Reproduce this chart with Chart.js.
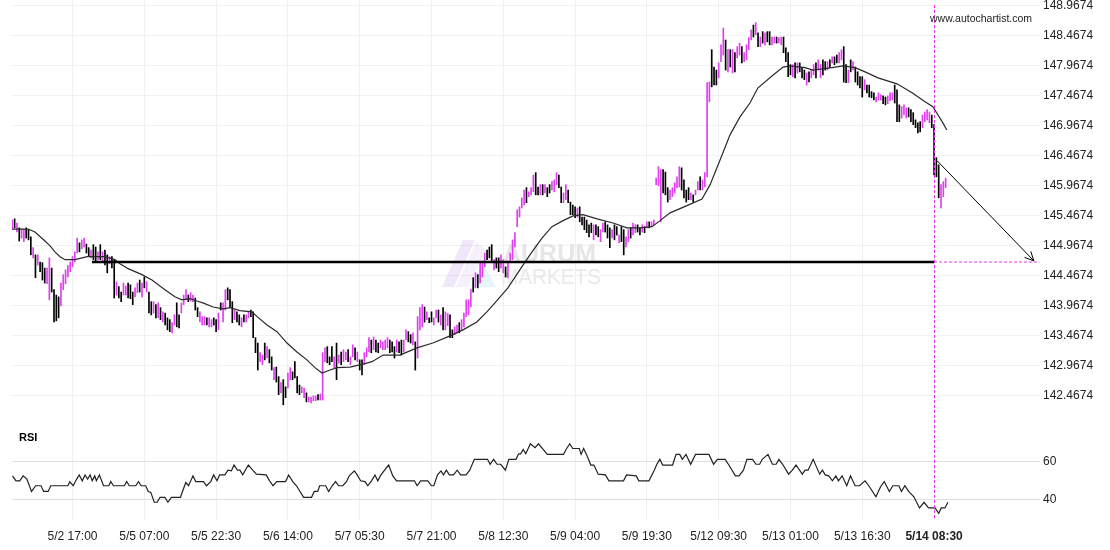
<!DOCTYPE html>
<html><head><meta charset="utf-8">
<script src="https://cdn.jsdelivr.net/npm/chart.js@4.4.1/dist/chart.umd.min.js"></script>
<style>html,body{margin:0;padding:0;background:#fff;}canvas{display:block;}</style>
</head><body>
<canvas id="c" width="1110" height="550"></canvas>
<script>
// ---- data (30-minute bars) ----
const xTickIdx = [26,57,88,119,150,181,212,243,274,305,336,367,398];
const xTickLabels = ['5/2 17:00','5/5 07:00','5/5 22:30','5/6 14:00','5/7 05:30','5/7 21:00','5/8 12:30','5/9 04:00','5/9 19:30','5/12 09:30','5/13 01:00','5/13 16:30','5/14 08:30'];
const priceTicks = [148.9674,148.4674,147.9674,147.4674,146.9674,146.4674,145.9674,145.4674,144.9674,144.4674,143.9674,143.4674,142.9674,142.4674];
const rsiTicks = [40,60];

const highs = [
145.40,145.42,145.35,145.27,145.25,145.24,145.27,145.24,145.12,144.94,
144.82,144.82,144.70,144.69,144.60,144.60,144.77,144.60,144.24,144.15,
144.12,144.35,144.49,144.57,144.64,144.70,144.79,144.87,145.10,145.02,
145.07,145.10,145.00,144.94,144.90,144.99,144.95,144.87,144.99,144.87,
144.90,144.82,144.79,144.79,144.74,144.37,144.29,144.20,144.35,144.30,
144.35,144.32,144.20,144.27,144.35,144.40,144.35,144.45,144.37,144.20,
144.04,144.04,143.99,144.02,143.94,143.87,143.85,143.77,143.74,143.69,
143.82,144.02,143.82,144.02,144.15,144.24,144.15,144.19,144.15,144.10,
143.94,143.87,143.79,143.79,143.77,143.77,143.74,143.77,143.74,143.85,
144.02,144.02,144.24,144.27,144.24,144.04,143.90,143.87,143.82,143.77,
143.82,143.82,143.87,143.90,143.87,143.44,143.35,143.19,143.15,143.35,
143.29,143.24,143.12,142.94,142.95,142.79,142.69,142.74,142.62,142.85,
142.94,142.87,143.04,142.79,142.65,142.62,142.60,142.52,142.45,142.45,
142.47,142.47,142.49,142.50,143.19,143.27,143.29,143.12,143.29,143.12,
143.35,143.15,143.20,143.24,143.20,143.24,143.12,143.32,143.27,143.20,
143.07,143.07,143.19,143.27,143.44,143.40,143.45,143.40,143.35,143.40,
143.37,143.40,143.44,143.40,143.37,143.29,143.40,143.37,143.40,143.40,
143.57,143.54,143.49,143.52,143.37,143.79,143.94,143.99,143.95,143.87,
143.77,143.87,143.77,143.90,143.90,143.82,143.94,143.87,143.84,143.82,
143.57,143.62,143.65,143.69,143.74,143.85,144.07,144.07,144.24,144.44,
144.52,144.49,144.69,144.69,144.85,144.90,144.95,144.99,144.74,144.77,
144.77,144.82,144.74,144.62,144.69,144.85,145.07,145.19,145.57,145.62,
145.77,145.90,145.94,145.87,145.94,146.15,146.19,145.95,145.99,145.99,
145.99,145.94,145.99,146.04,146.07,146.19,146.15,145.95,145.85,145.99,
145.90,145.70,145.65,145.62,145.60,145.62,145.45,145.45,145.40,145.32,
145.35,145.32,145.32,145.29,145.24,145.35,145.37,145.32,145.27,145.24,
145.32,145.29,145.15,145.29,145.24,145.12,145.24,145.27,145.35,145.32,
145.32,145.27,145.32,145.29,145.37,145.37,145.37,145.40,146.10,146.29,
146.24,146.24,146.20,145.94,145.90,145.94,146.02,146.12,146.29,146.27,
146.07,145.90,145.94,145.85,145.82,145.90,146.04,146.12,146.07,146.19,
147.69,147.70,148.24,147.95,147.90,148.02,148.32,148.60,148.40,148.24,
148.24,148.24,148.19,148.29,148.35,148.29,148.19,148.32,148.44,148.57,
148.65,148.69,148.52,148.45,148.54,148.52,148.54,148.54,148.45,148.45,
148.45,148.44,148.45,148.45,148.27,148.19,147.99,147.99,148.02,148.02,
148.02,147.94,147.90,147.85,147.87,147.90,147.99,148.02,148.07,147.99,
148.07,148.04,148.04,148.07,148.12,148.12,148.15,148.19,148.24,148.29,
147.99,147.90,148.07,148.04,147.95,147.87,147.79,147.79,147.74,147.65,
147.65,147.54,147.52,147.45,147.52,147.49,147.47,147.45,147.47,147.52,
147.52,147.65,147.57,147.32,147.29,147.32,147.27,147.27,147.24,147.19,
147.07,147.02,147.04,147.15,147.20,147.24,147.20,147.15,146.99,146.44,
146.32,145.99,146.04,146.10];

const lows = [
145.24,145.27,145.20,145.05,145.10,145.04,145.10,145.07,144.82,144.77,
144.44,144.65,144.54,144.40,144.35,144.34,144.07,144.20,143.70,143.72,
143.77,143.97,144.24,144.34,144.45,144.54,144.62,144.70,144.85,144.87,
144.92,144.95,144.85,144.80,144.77,144.74,144.70,144.74,144.74,144.70,
144.65,144.52,144.67,144.60,144.10,144.15,144.10,144.04,144.15,144.15,
144.10,144.09,143.99,144.12,144.19,144.20,144.12,144.27,144.20,143.85,
143.82,143.85,143.77,143.77,143.74,143.70,143.65,143.57,143.54,143.52,
143.65,143.62,143.60,143.85,143.99,144.07,144.04,144.05,144.04,143.90,
143.79,143.70,143.65,143.65,143.65,143.62,143.62,143.65,143.54,143.57,
143.90,143.70,143.90,144.07,143.94,143.69,143.74,143.70,143.65,143.62,
143.70,143.70,143.77,143.79,143.44,143.19,142.90,143.04,142.99,143.07,
143.10,143.02,142.90,142.74,142.70,142.49,142.52,142.32,142.44,142.60,
142.74,142.74,142.77,142.52,142.49,142.52,142.44,142.37,142.37,142.35,
142.39,142.39,142.40,142.40,142.40,143.04,143.02,142.99,143.04,142.94,
142.74,143.02,142.99,143.04,143.07,143.04,142.99,143.12,143.07,143.04,
142.90,142.82,142.99,143.12,143.20,143.19,143.24,143.20,143.19,143.27,
143.24,143.24,143.27,143.19,143.20,143.10,143.20,143.19,143.15,143.20,
143.40,143.37,143.35,143.32,142.90,143.10,143.57,143.62,143.70,143.74,
143.69,143.70,143.65,143.77,143.70,143.65,143.57,143.57,143.64,143.44,
143.44,143.49,143.52,143.52,143.57,143.62,143.79,143.82,143.95,144.20,
144.27,144.27,144.35,144.45,144.62,144.74,144.77,144.69,144.57,144.60,
144.54,144.60,144.52,144.45,144.44,144.69,144.74,144.95,145.29,145.45,
145.60,145.65,145.69,145.79,145.82,145.87,145.82,145.82,145.82,145.82,
145.85,145.79,145.85,145.90,145.87,145.99,145.94,145.69,145.69,145.74,
145.69,145.49,145.49,145.44,145.45,145.37,145.32,145.24,145.19,145.12,
145.19,145.07,145.15,145.12,145.04,145.20,145.20,145.10,144.94,145.10,
145.07,145.15,145.02,145.04,144.82,144.95,145.04,145.10,145.15,145.19,
145.20,145.15,145.20,145.19,145.27,145.27,145.30,145.32,145.99,145.97,
145.37,145.85,145.82,145.70,145.74,145.79,145.85,145.94,145.95,145.90,
145.77,145.70,145.74,145.74,145.70,145.82,145.90,145.90,145.90,145.95,
146.12,147.37,147.62,147.65,147.65,147.77,148.04,148.15,147.90,147.87,
147.95,147.85,147.87,148.10,148.15,148.02,148.04,148.07,148.24,148.40,
148.45,148.49,148.29,148.29,148.35,148.32,148.37,148.32,148.32,148.35,
148.35,148.35,148.32,148.19,148.04,147.79,147.82,147.79,147.77,147.85,
147.87,147.77,147.74,147.65,147.70,147.77,147.82,147.77,147.90,147.77,
147.82,147.90,147.90,147.94,148.02,147.99,148.02,148.02,148.07,147.70,
147.69,147.69,147.87,147.90,147.70,147.65,147.60,147.45,147.57,147.52,
147.45,147.44,147.40,147.37,147.40,147.40,147.34,147.32,147.34,147.39,
147.40,147.35,147.04,147.04,147.10,147.15,147.10,147.12,147.04,146.99,
146.94,146.85,146.87,146.94,147.04,147.07,147.02,146.94,146.15,146.12,
145.77,145.60,145.79,145.94];

// 1 = up bar (close > open), 0 = down bar
const ups = [
1,0,1,0,1,1,0,0,0,1, 0,1,0,0,0,1,1,0,0,0, 0,1,1,1,1,1,1,1,1,0, 1,1,0,0,1,0,0,1,0,1,
0,0,1,0,0,1,0,0,1,1, 0,0,0,1,1,0,1,0,1,0, 0,1,0,1,0,1,0,0,0,1, 1,0,0,1,1,1,0,1,1,0,
0,1,1,1,0,1,1,0,0,1, 0,1,1,0,0,0,1,0,0,1, 0,1,1,0,0,0,0,1,1,0, 1,0,0,1,0,0,1,0,0,1,
1,0,0,0,0,1,1,0,1,1, 1,1,0,1,1,1,0,0,0,1, 0,1,0,1,1,0,1,1,0,1, 0,0,1,1,1,0,1,0,0,1,
1,1,1,0,0,0,1,0,0,1, 1,0,0,1,0,1,1,1,0,1, 0,0,1,1,0,1,0,1,1,0, 0,1,1,0,1,1,1,1,1,0,
1,0,1,1,1,0,0,0,1,0, 0,1,1,0,1,1,1,1,1,1, 1,1,0,1,1,1,0,0,1,0, 1,0,0,1,1,1,0,0,1,1,
0,0,0,0,1,0,0,0,0,0, 0,1,0,0,1,1,0,0,0,1, 0,0,1,0,0,1,1,0,1,1, 0,0,1,0,1,0,1,1,1,1,
1,0,0,0,1,1,1,1,1,0, 0,0,0,1,0,1,1,0,1,1, 1,1,0,0,0,1,1,1,0,1, 0,1,0,1,1,0,1,1,1,1,
0,1,0,1,0,1,0,0,1,1, 0,1,1,0,0,0,0,1,0,1, 0,0,0,1,0,1,1,0,1,1, 0,0,1,0,1,0,0,1,1,0,
0,1,0,1,0,0,0,0,1,0, 0,0,0,1,1,1,0,0,1,1, 1,0,0,0,1,1,1,0,0,0, 0,0,0,1,1,1,1,0,0,0,
0,1,1,1];

// moving average (bar index, price)
const maIdx = [0,6.8,9.8,14.1,16.3,18.4,20.6,22.8,27.1,32.3,40.0,44.3,46.5,50.0,56.0,60.3,65.9,70.2,73.3,76.7,79.7,82.3,86.7,91.0,94.0,98.3,103.5,105.7,110.0,114.3,118.6,122.9,127.2,130.7,133.7,137.2,140.2,145.8,151.4,155.3,160.1,167.4,174.7,181.6,189.0,194.6,200.6,204.9,208.4,214.0,220.0,224.4,228.7,233.0,237.8,242.1,246.4,252.5,259.4,265.4,271.0,276.2,279.7,284.0,291.3,297.8,301.3,305.6,309.9,314.2,318.5,321.9,328.0,332.8,335.8,342.3,345.7,353.9,358.7,363.9,368.2,373.8,382.0,388.5,394.1,397.5,399.7,401.8,403.5];
const maVal = [145.25,145.25,145.20,145.05,144.97,144.87,144.79,144.74,144.74,144.79,144.79,144.74,144.67,144.59,144.49,144.40,144.24,144.12,144.07,144.09,144.05,144.02,143.95,143.92,143.94,143.89,143.87,143.79,143.65,143.54,143.35,143.20,143.07,142.94,142.85,142.90,142.94,142.95,143.00,143.04,143.15,143.15,143.27,143.35,143.47,143.57,143.70,143.87,144.02,144.27,144.62,144.87,145.10,145.29,145.39,145.47,145.49,145.42,145.35,145.27,145.27,145.29,145.39,145.52,145.64,145.75,145.99,146.40,146.82,147.12,147.35,147.60,147.80,147.95,147.97,147.94,147.90,147.94,147.97,147.94,147.87,147.77,147.67,147.52,147.37,147.29,147.15,147.02,146.90];

// RSI (bar index, value)
const rsiIdx = [0.1,1.6,3.2,4.7,6.3,8.3,10.1,12.4,13.5,15.5,16.6,24.0,24.8,26.3,27.8,28.9,30.2,31.4,32.5,33.6,34.5,35.6,36.3,37.6,39.4,41.7,42.5,43.7,48.4,49.4,50.5,53.3,54.5,55.6,57.6,58.7,59.8,61.3,62.5,63.8,65.9,67.2,68.7,72.6,73.6,74.9,76.1,78.0,79.2,82.6,83.8,85.7,86.9,88.4,89.5,91.8,93.1,94.6,95.7,97.2,98.3,99.5,101.9,103.4,105.4,109.6,111.1,112.6,114.2,118.0,119.3,121.1,122.7,125.8,129.2,130.4,131.9,132.7,135.3,136.6,138.1,139.6,140.9,142.7,144.3,145.5,147.7,148.9,150.4,152.3,153.5,155.1,156.6,157.8,158.9,160.5,162.5,164.3,165.9,173.6,174.8,176.3,179.4,181.0,182.0,183.6,185.1,186.2,187.4,188.7,190.5,192.1,193.6,195.9,197.5,199.5,205.2,206.3,207.8,209.3,210.9,212.9,214.4,217.5,218.6,219.5,220.6,221.7,223.7,225.7,227.2,229.2,231.0,238.0,239.1,240.7,242.0,244.8,245.6,246.7,247.9,249.8,251.1,253.0,256.1,257.6,263.9,265.2,269.4,270.5,274.9,277.2,278.3,279.6,280.8,285.1,286.6,288.2,289.3,290.9,292.9,295.0,300.8,302.8,304.4,307.8,309.4,312.2,313.8,315.7,317.2,319.6,321.1,322.7,323.8,326.3,328.2,329.8,331.0,332.6,335.2,336.8,338.4,341.1,342.3,343.6,345.8,348.6,349.8,351.0,352.5,354.1,355.6,356.7,358.3,360.3,361.9,363.9,365.8,368.2,369.8,372.9,374.9,376.5,378.7,380.2,382.8,383.9,385.4,387.0,389.3,391.7,393.7,395.6,398.4,400.0,401.1,402.7,404.0];
const rsiVal = [52.7,50.1,50.1,52.7,51.0,44.5,47.5,47.5,44.5,44.5,47.5,47.5,49.6,47.5,51.0,53.2,50.1,53.2,51.0,53.2,50.1,52.7,50.1,53.2,47.5,47.5,49.7,47.5,47.5,49.7,47.5,47.5,49.7,47.5,47.5,44.5,44.0,38.8,38.8,41.4,41.4,38.8,41.4,41.4,44.9,49.2,47.5,52.7,49.7,49.7,47.5,49.7,53.2,50.1,53.2,53.2,55.7,55.3,58.4,55.7,55.7,53.2,58.4,56.2,53.6,53.2,50.1,47.5,49.7,49.7,53.2,49.7,47.5,41.4,41.4,44.5,44.5,47.5,47.5,44.5,47.5,49.7,47.5,47.5,49.7,52.7,55.3,53.2,50.1,49.7,47.5,50.1,53.2,50.1,52.7,55.3,58.4,52.7,50.1,50.1,47.5,50.1,50.1,47.5,47.5,53.2,55.3,53.2,55.7,53.2,53.2,55.7,53.2,53.2,55.7,61.4,61.4,58.8,61.4,58.8,58.8,55.7,61.4,61.4,64.3,64.3,66.6,64.3,69.6,67.5,69.6,66.6,64.0,64.0,66.6,69.6,67.1,67.1,64.0,67.1,64.0,58.4,58.4,53.6,53.2,50.1,50.1,53.2,52.7,50.1,50.1,55.7,58.8,61.4,58.4,58.4,64.0,64.0,61.4,64.0,58.8,64.0,64.0,58.8,61.4,61.4,58.4,52.7,52.7,55.7,61.4,61.4,58.8,58.8,61.4,64.0,58.8,58.8,61.4,58.8,53.6,55.7,58.4,53.6,55.7,55.7,61.4,53.6,55.7,53.2,52.7,50.1,52.7,50.1,52.7,47.5,52.7,47.5,47.5,50.1,47.5,41.7,47.0,49.7,44.5,47.5,47.5,44.5,47.5,44.5,41.7,35.8,38.8,35.8,35.8,33.0,35.8,35.8,38.8];

// pattern annotation
const supportLevel = 144.70;
const supportStartIdx = 34.4;
const signalIdx = 398;
const targetEndIdx = 443.5;
const arrowFrom = [399.3, 146.39];
const arrowTo = [441.1, 144.72];

// ---- chart ----
const MAG = '#df3ff0';
const DASH_MAG = '#ee33ee';
Chart.defaults.font.family = '"Liberation Sans", Arial, Helvetica, sans-serif';

const overlay = {
  id: 'overlay',
  beforeDatasetsDraw(chart) {
    const c = chart.ctx;
    c.save();
    // faint broker watermark
    c.fillStyle = 'rgba(205,180,240,0.30)';
    c.beginPath(); c.moveTo(442,287); c.lineTo(463,240); c.lineTo(475,240); c.lineTo(454,287); c.closePath(); c.fill();
    c.fillStyle = 'rgba(215,195,245,0.25)';
    c.beginPath(); c.moveTo(456,287); c.lineTo(476,242); c.lineTo(486,250); c.lineTo(468,287); c.closePath(); c.fill();
    c.fillStyle = 'rgba(190,230,245,0.35)';
    c.beginPath(); c.moveTo(470,287); c.lineTo(483,262); c.lineTo(496,287); c.closePath(); c.fill();
    c.fillStyle = '#e6e6e6';
    c.textBaseline = 'alphabetic';
    c.font = 'bold 25px "Liberation Sans", Arial, sans-serif';
    c.fillText('AURUM', 503, 262, 96);
    c.fillStyle = '#e9e9e9';
    c.font = '22px "Liberation Sans", Arial, sans-serif';
    c.fillText('MARKETS', 501, 284, 100);
    c.restore();
  },
  afterDatasetsDraw(chart) {
    const c = chart.ctx, xs = chart.scales.x, ys = chart.scales.y;
    c.save();
    // signal vertical dashed line
    const px = Math.round(xs.getPixelForValue(signalIdx)) + 0.5;
    c.strokeStyle = DASH_MAG; c.lineWidth = 1; c.setLineDash([3,2]);
    c.beginPath(); c.moveTo(px, 5); c.lineTo(px, 518); c.stroke();
    c.setLineDash([]);
    // arrow head
    const x1 = xs.getPixelForValue(arrowFrom[0]), y1 = ys.getPixelForValue(arrowFrom[1]);
    const x2 = xs.getPixelForValue(arrowTo[0]), y2 = ys.getPixelForValue(arrowTo[1]);
    const a = Math.atan2(y2 - y1, x2 - x1), L = 10, w = 0.45;
    c.strokeStyle = '#000'; c.lineWidth = 1;
    c.beginPath();
    c.moveTo(x2 - L*Math.cos(a - w), y2 - L*Math.sin(a - w)); c.lineTo(x2, y2);
    c.lineTo(x2 - L*Math.cos(a + w), y2 - L*Math.sin(a + w));
    c.stroke();
    // labels
    c.fillStyle = '#000';
    c.textBaseline = 'middle';
    c.font = 'bold 11px "Liberation Sans", Arial, sans-serif';
    c.fillText('RSI', 19, 438);
    c.fillStyle = '#222';
    c.font = '10.5px "Liberation Sans", Arial, sans-serif';
    c.fillText('www.autochartist.com', 930, 19);
    c.restore();
  }
};

const barData = highs.map((h, i) => ({x: i, y: [lows[i], h]}));
const pts = (xa, ya) => xa.map((v, i) => ({x: v, y: ya[i]}));
const noPad = s => { s.width = 70; s.paddingTop = 0; s.paddingBottom = 0; };

new Chart(document.getElementById('c'), {
  type: 'line',
  data: {
    datasets: [
      {type: 'bar', data: barData, backgroundColor: ups.map(u => u ? MAG : '#000'), borderWidth: 0,
       barThickness: 1, yAxisID: 'y', order: 5},
      {data: pts(maIdx, maVal), borderColor: '#2a2a2a', borderWidth: 1.2, pointRadius: 0, yAxisID: 'y', order: 4},
      {data: [{x: supportStartIdx, y: supportLevel}, {x: signalIdx, y: supportLevel}], borderColor: '#000', borderWidth: 2.5, pointRadius: 0, yAxisID: 'y', order: 3},
      {data: [{x: signalIdx, y: supportLevel}, {x: targetEndIdx, y: supportLevel}], borderColor: DASH_MAG, borderWidth: 1, borderDash: [3,2], pointRadius: 0, yAxisID: 'y', order: 2},
      {data: [{x: arrowFrom[0], y: arrowFrom[1]}, {x: arrowTo[0], y: arrowTo[1]}], borderColor: '#000', borderWidth: 1, pointRadius: 0, yAxisID: 'y', order: 1},
      {data: pts(rsiIdx, rsiVal), borderColor: '#222', borderWidth: 1.2, pointRadius: 0, yAxisID: 'yR', order: 0}
    ]
  },
  options: {
    responsive: false, animation: false, events: [],
    layout: {padding: {left: 12, right: 0, top: 0, bottom: 0}},
    plugins: {legend: {display: false}, tooltip: {enabled: false}},
    scales: {
      x: {
        type: 'linear', min: -0.13, max: 443.74, offset: false,
        grid: {color: '#f0f0f0', drawTicks: false, offset: false},
        border: {display: false},
        afterBuildTicks: s => { s.ticks = xTickIdx.map(v => ({value: v})); },
        afterFit: s => { s.height = 30; },
        ticks: {
          autoSkip: false, maxRotation: 0, padding: 9, color: '#222',
          font: ctx => ({size: 12, weight: (ctx.tick && ctx.tick.value === signalIdx) ? 'bold' : 'normal'}),
          callback: v => { const k = xTickIdx.indexOf(v); return k >= 0 ? xTickLabels[k] : ''; }
        }
      },
      y: {
        type: 'linear', position: 'right', stack: 'panes', stackWeight: 4.2,
        min: 142.0674, max: 149.0674,
        grid: {color: '#f1f1f1', drawTicks: false},
        border: {display: false},
        afterBuildTicks: s => { s.ticks = priceTicks.map(v => ({value: v})); },
        afterFit: noPad,
        ticks: {autoSkip: false, padding: 3, color: '#222', font: {size: 12}, callback: v => Number(v).toFixed(4)}
      },
      yR: {
        type: 'linear', position: 'right', stack: 'panes', stackWeight: 1,
        min: 29.47, max: 82.1,
        grid: {color: '#e0e0e0', drawTicks: false},
        border: {display: false},
        afterBuildTicks: s => { s.ticks = rsiTicks.map(v => ({value: v})); },
        afterFit: noPad,
        ticks: {autoSkip: false, padding: 3, color: '#222', font: {size: 12}, callback: v => String(v)}
      }
    }
  },
  plugins: [overlay]
});
</script>
</body></html>
